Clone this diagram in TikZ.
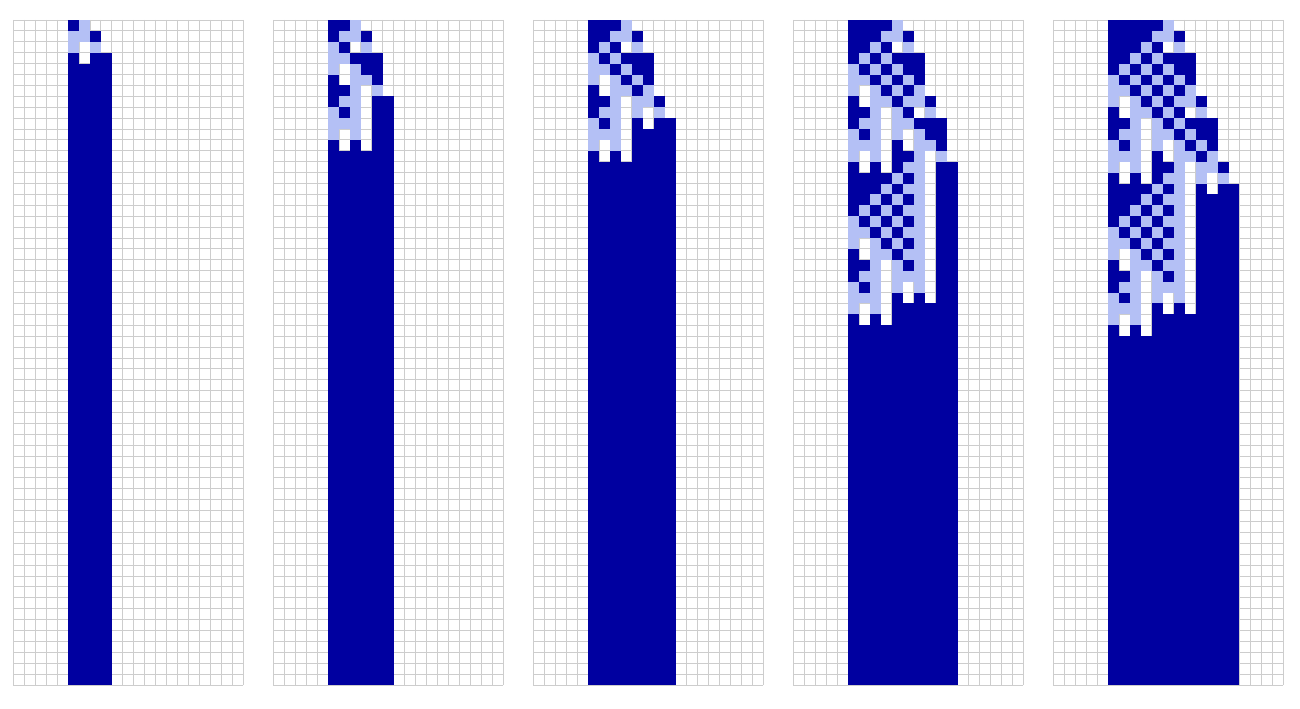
\documentclass[tikz,border=0pt]{standalone}
\definecolor{cdark}{RGB}{0,0,160}
\definecolor{clight}{RGB}{180,192,245}
\definecolor{cgrid}{RGB}{205,205,205}
\tikzset{
  cellD/.style={fill=cdark},
  cellL/.style={fill=clight},
  cellW/.style={fill=none},
  gridline/.style={draw=cgrid, line width=0.5pt}
}
\newcommand\panelgrid{%
  \foreach \i in {0,...,21}{\draw[gridline] (\i,0) -- (\i,61);}
  \foreach \j in {0,...,61}{\draw[gridline] (0,\j) -- (21,\j);}}
\newcommand\panelrows[1]{%
  \foreach \r [count=\yy from 0] in {#1}{%
    \foreach \c [count=\xx from 5] in \r {\fill[cell\c] (\xx,\yy) rectangle ++(1,1);}}}
\tikzset{panel/.style={yshift=-0.4cm, x=0.21904cm, y=-0.21804cm}}
\begin{document}
\begin{tikzpicture}
\useasboundingbox (0,0) rectangle (26,-14.18);
% panel 1
\begin{scope}[xshift=0.266cm, panel]
\panelgrid
\panelrows{{D,L,W,W},{L,L,D,W},{L,W,L,W},{D,W,D,D}}
\fill[cellD] (5,4) rectangle (9,61);
\end{scope}
% panel 2
\begin{scope}[xshift=5.466cm, panel]
\panelgrid
\panelrows{{D,D,L,W,W,W},{D,L,L,D,W,W},{L,D,W,L,W,W},{L,L,D,D,D,W},
{L,W,L,D,D,W},{D,W,L,L,D,W},{D,D,L,W,L,W},{D,L,L,W,D,D},{L,D,L,W,D,D},
{L,L,L,W,D,D},{L,W,L,W,D,D},{D,W,D,W,D,D}}
\fill[cellD] (5,12) rectangle (11,61);
\end{scope}
% panel 3
\begin{scope}[xshift=10.666cm, panel]
\panelgrid
\panelrows{{D,D,D,L,W,W,W,W},{D,D,L,L,D,W,W,W},{D,L,D,W,L,W,W,W},
{L,D,L,D,D,D,W,W},{L,L,D,L,D,D,W,W},{L,W,L,D,L,D,W,W},{D,W,L,L,D,L,W,W},
{D,D,L,W,L,L,D,W},{D,L,L,W,L,W,L,W},{L,D,L,W,D,W,D,D},{L,L,L,W,D,D,D,D},
{L,W,L,W,D,D,D,D},{D,W,D,W,D,D,D,D}}
\fill[cellD] (5,13) rectangle (13,61);
\end{scope}
% panel 4
\begin{scope}[xshift=15.866cm, panel]
\panelgrid
\panelrows{{D,D,D,D,L,W,W,W,W,W},{D,D,D,L,L,D,W,W,W,W},{D,D,L,D,W,L,W,W,W,W},
{D,L,D,L,D,D,D,W,W,W},{L,D,L,D,L,D,D,W,W,W},{L,L,D,L,D,L,D,W,W,W},
{L,W,L,D,L,D,L,W,W,W},{D,W,L,L,D,L,L,D,W,W},{D,D,L,W,L,D,W,L,W,W},
{D,L,L,W,L,L,D,D,D,W},{L,D,L,W,L,W,L,D,D,W},{L,L,L,W,D,W,L,L,D,W},
{L,W,L,W,D,D,L,W,L,W},{D,W,D,W,D,L,L,W,D,D},{D,D,D,D,L,D,L,W,D,D},
{D,D,D,L,D,L,L,W,D,D},{D,D,L,D,L,D,L,W,D,D},{D,L,D,L,D,L,L,W,D,D},
{L,D,L,D,L,D,L,W,D,D},{L,L,D,L,D,L,L,W,D,D},{L,W,L,D,L,D,L,W,D,D},
{D,W,L,L,D,L,L,W,D,D},{D,D,L,W,L,D,L,W,D,D},{D,L,L,W,L,L,L,W,D,D},
{L,D,L,W,L,W,L,W,D,D},{L,L,L,W,D,W,D,W,D,D},{L,W,L,W,D,D,D,D,D,D},
{D,W,D,W,D,D,D,D,D,D}}
\fill[cellD] (5,28) rectangle (15,61);
\end{scope}
% panel 5
\begin{scope}[xshift=21.066cm, panel]
\panelgrid
\panelrows{{D,D,D,D,D,L,W,W,W,W,W,W},{D,D,D,D,L,L,D,W,W,W,W,W},
{D,D,D,L,D,W,L,W,W,W,W,W},{D,D,L,D,L,D,D,D,W,W,W,W},
{D,L,D,L,D,L,D,D,W,W,W,W},{L,D,L,D,L,D,L,D,W,W,W,W},
{L,L,D,L,D,L,D,L,W,W,W,W},{L,W,L,D,L,D,L,L,D,W,W,W},
{D,W,L,L,D,L,D,W,L,W,W,W},{D,D,L,W,L,D,L,D,D,D,W,W},
{D,L,L,W,L,L,D,L,D,D,W,W},{L,D,L,W,L,W,L,D,L,D,W,W},
{L,L,L,W,D,W,L,L,D,L,W,W},{L,W,L,W,D,D,L,W,L,L,D,W},
{D,W,D,W,D,L,L,W,L,W,L,W},{D,D,D,D,L,D,L,W,D,W,D,D},
{D,D,D,L,D,L,L,W,D,D,D,D},{D,D,L,D,L,D,L,W,D,D,D,D},
{D,L,D,L,D,L,L,W,D,D,D,D},{L,D,L,D,L,D,L,W,D,D,D,D},
{L,L,D,L,D,L,L,W,D,D,D,D},{L,W,L,D,L,D,L,W,D,D,D,D},
{D,W,L,L,D,L,L,W,D,D,D,D},{D,D,L,W,L,D,L,W,D,D,D,D},
{D,L,L,W,L,L,L,W,D,D,D,D},{L,D,L,W,L,W,L,W,D,D,D,D},
{L,L,L,W,D,W,D,W,D,D,D,D},{L,W,L,W,D,D,D,D,D,D,D,D},
{D,W,D,W,D,D,D,D,D,D,D,D}}
\fill[cellD] (5,29) rectangle (17,61);
\end{scope}
\end{tikzpicture}
\end{document}
